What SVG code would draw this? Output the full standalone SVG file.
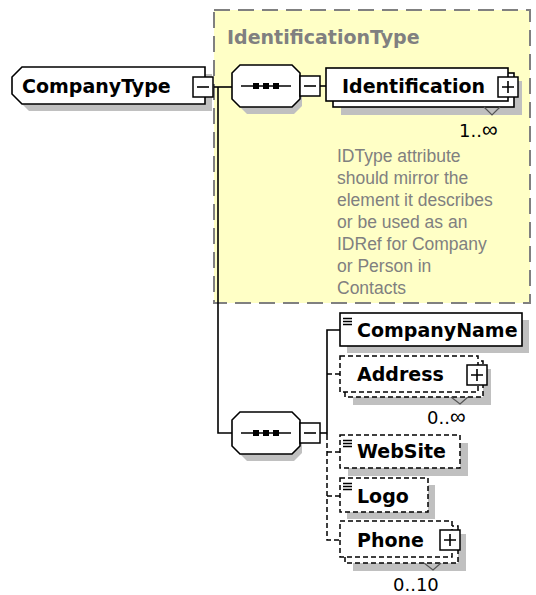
<svg xmlns="http://www.w3.org/2000/svg" width="536" height="595" viewBox="0 0 536 595">
<style>
.bold{font-family:"DejaVu Sans",Verdana,sans-serif;font-weight:bold;font-size:19px;fill:#000}
.note{font-family:"Liberation Sans",Arial,sans-serif;font-size:17.5px;fill:#808080}
.mult{font-family:"DejaVu Sans",Verdana,sans-serif;font-size:18px;fill:#000}
.inf{font-family:"Liberation Sans",Arial,sans-serif;font-size:22px}
.title{font-family:"DejaVu Sans",Verdana,sans-serif;font-weight:bold;font-size:19px;fill:#808080}
.shadow{fill:#c0c0c0;stroke:none}
.box{fill:#fff;stroke:#000;stroke-width:1.6}
.dbox{fill:#fff;stroke:#000;stroke-width:1.5;stroke-dasharray:5,3}
.btn{fill:#fff;stroke:#000;stroke-width:1.5}
.ln{fill:none;stroke:#000;stroke-width:1.6}
.dln{fill:none;stroke:#000;stroke-width:1.5;stroke-dasharray:5,3}
.icon{stroke:#000;stroke-width:1.3}
.notch{fill:none;stroke:#555;stroke-width:1.2}
</style>
<defs>
<g id="minus"><rect class="btn" x="0" y="0" width="20" height="20"/><path class="ln" d="M4,10 H16"/></g>
<g id="plus"><rect class="btn" x="0" y="0" width="20" height="20"/><path class="ln" d="M4,10 H16 M10,4 V16"/></g>
<g id="seq">
<path class="shadow" d="M247,7 H294 L302,15 V41 L294,49 H247 L239,41 V15 Z"/>
<path class="box" d="M240,0 H292 L300,8 V34 L292,42 H240 L232,34 V8 Z"/>
<path class="ln" d="M241,21 H291"/>
<rect x="253" y="18" width="6" height="6" fill="#000"/>
<rect x="263" y="18" width="6" height="6" fill="#000"/>
<rect x="273" y="18" width="6" height="6" fill="#000"/>
</g>
<g id="lines"><path class="icon" d="M0,0.5 H9 M0,3.5 H9 M0,6.5 H9"/></g>
</defs>

<g id="IdentificationType">
<rect x="214" y="10" width="316" height="293" fill="#ffffc6" stroke="#808080" stroke-width="2" stroke-dasharray="16,8"/>
<text class="title" x="227" y="44">IdentificationType</text>
<text class="note" x="337" y="162">IDType attribute</text>
<text class="note" x="337" y="184">should mirror the</text>
<text class="note" x="337" y="206">element it describes</text>
<text class="note" x="337" y="228">or be used as an</text>
<text class="note" x="337" y="250">IDRef for Company</text>
<text class="note" x="337" y="272">or Person in</text>
<text class="note" x="337" y="294">Contacts</text>
</g>

<g id="connectors">
<path class="ln" d="M214,87 H232"/>
<path class="ln" d="M218,87 V433 H232"/>
<path class="ln" d="M320,86 H326"/>
<path class="ln" d="M320,433 H327"/>
<path class="ln" d="M340,330 H327 V435"/>
<path class="dln" d="M327,374 H340"/>
<path class="dln" d="M327,435 V540 H340"/>
<path class="dln" d="M327,452 H340"/>
<path class="dln" d="M327,496 H340"/>
</g>

<g id="CompanyType">
<path class="shadow" d="M29,74 H212 V111 H29 L19,101 V84 Z"/>
<path class="box" d="M22,67 H205 V104 H22 L12,94 V77 Z"/>
<text class="bold" x="22" y="93">CompanyType</text>
<use href="#minus" x="193" y="77"/>
</g>

<g id="Sequence1">
<use href="#seq" x="0" y="65"/>
<use href="#minus" x="300" y="76"/>
</g>

<g id="Identification">
<rect class="shadow" x="341" y="81" width="181" height="34"/>
<rect class="box" x="333" y="73" width="181" height="34"/>
<rect class="box" x="326" y="68" width="182" height="33"/>
<text class="bold" x="342" y="93">Identification</text>
<use href="#plus" x="498" y="77"/>
<path class="notch" d="M484,107 L492,115 L500,107"/>
<text class="mult" x="459" y="137">1..<tspan class="inf">∞</tspan></text>
</g>

<g id="Sequence2">
<use href="#seq" x="0" y="412"/>
<use href="#minus" x="300" y="423"/>
</g>

<g id="CompanyName">
<rect class="shadow" x="347" y="320" width="182" height="33"/>
<rect class="box" x="340" y="313" width="182" height="33"/>
<use href="#lines" x="343" y="318"/>
<text class="bold" x="357" y="337">CompanyName</text>
</g>

<g id="Address">
<rect class="shadow" x="353" y="369" width="138" height="36"/>
<rect class="dbox" x="345" y="361" width="138" height="36"/>
<rect class="dbox" x="340" y="356" width="138" height="36"/>
<text class="bold" x="357" y="381">Address</text>
<use href="#plus" x="467" y="365"/>
<path class="notch" d="M451,397 L460,404 L468,397"/>
<text class="mult" x="427" y="424">0..<tspan class="inf">∞</tspan></text>
</g>

<g id="WebSite">
<rect class="shadow" x="348" y="443" width="120" height="33"/>
<rect class="dbox" x="340" y="435" width="120" height="33"/>
<use href="#lines" x="343" y="440"/>
<text class="bold" x="357" y="458">WebSite</text>
</g>

<g id="Logo">
<rect class="shadow" x="347" y="485" width="88" height="34"/>
<rect class="dbox" x="340" y="478" width="88" height="34"/>
<use href="#lines" x="343" y="483"/>
<text class="bold" x="357" y="503">Logo</text>
</g>

<g id="Phone">
<rect class="shadow" x="353" y="534" width="113" height="37"/>
<rect class="dbox" x="345" y="526" width="113" height="37"/>
<rect class="dbox" x="340" y="521" width="112" height="36"/>
<text class="bold" x="357" y="547">Phone</text>
<use href="#plus" x="440" y="530"/>
<path class="notch" d="M424,563 L433,570 L441,563"/>
<text class="mult" x="393" y="591">0..10</text>
</g>
</svg>
